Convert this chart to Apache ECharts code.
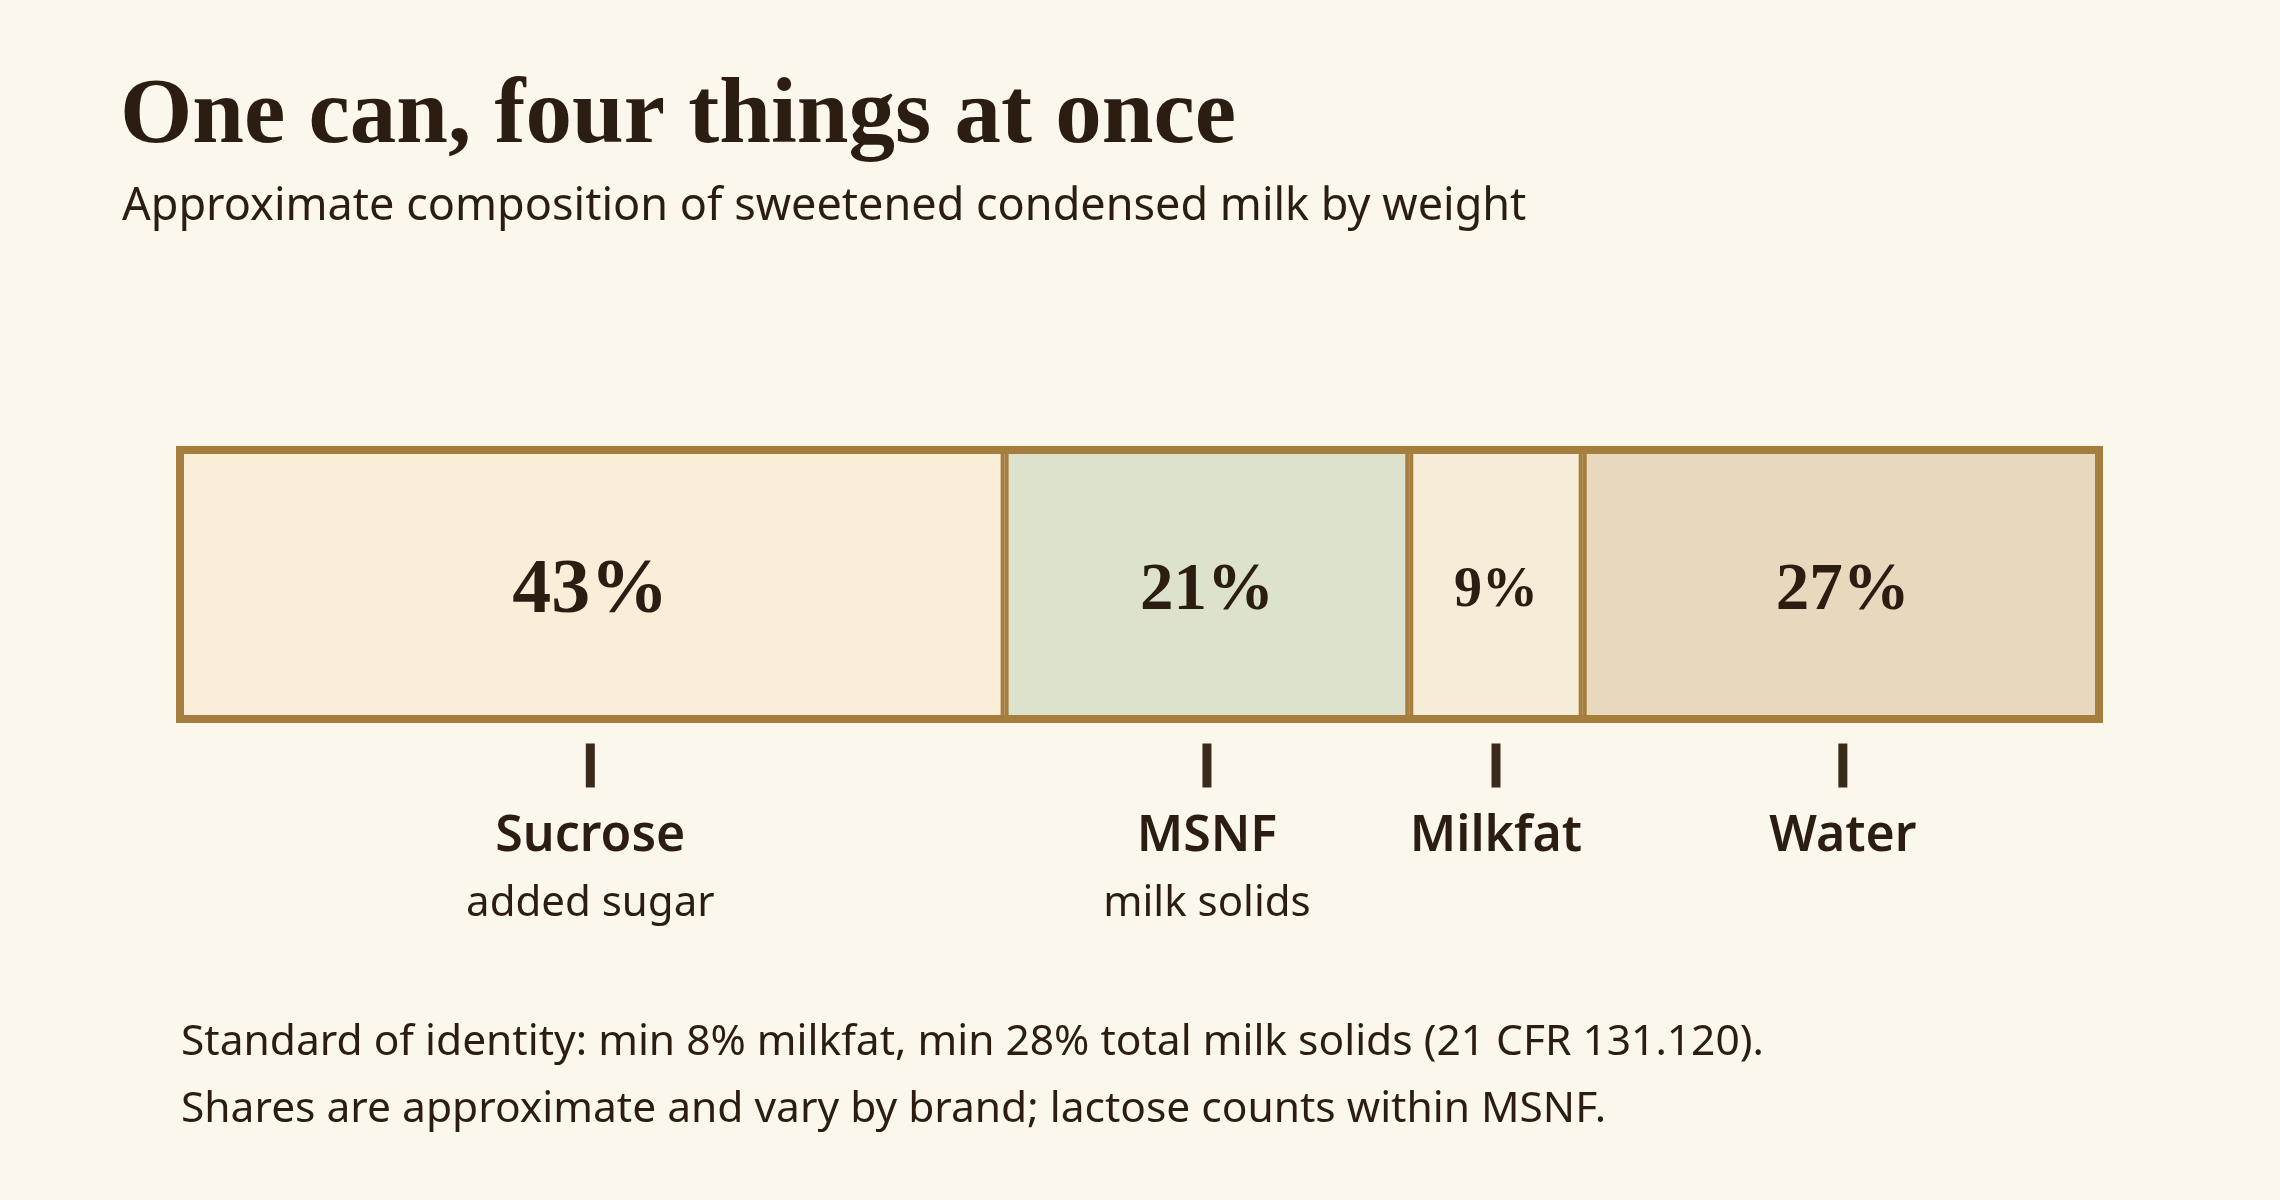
<!DOCTYPE html>
<html>
<head>
<meta charset="utf-8">
<script src="https://cdn.jsdelivr.net/npm/echarts@6/dist/echarts.min.js"></script>
<style>
  html, body { margin: 0; padding: 0; background: #fcf7ec; }
  #chart { width: 2280px; height: 1200px; }
</style>
</head>
<body>
<div id="chart"></div>
<script>
// composition of sweetened condensed milk, % by weight
const components = ["Sucrose", "MSNF", "Milkfat", "Water"];
const subLabels = ["added sugar", "milk solids", "", ""];
const shares = [43, 21, 9, 27];
const fills = ["#faeed8", "#dde2cc", "#f6ecd7", "#e8d8be"];

const ink = "#2b1d12";
const frame = "#a57d3d";
const serif = "'Liberation Serif', Georgia, serif";
const sans = "'Noto Sans', 'Open Sans', sans-serif";

// where each segment starts on the 0-100 axis
let starts = [];
let acc = 0;
shares.forEach(v => { starts.push(acc); acc += v; });

let chart = echarts.init(document.getElementById("chart"));

// bigger slices get bigger numbers
function pctSize(v) {
  if (v >= 30) return 78;
  if (v >= 15) return 67;
  return 56;
}

// echarts keeps the bar border inside the rect, so dividers end up 2x; outer edge gets topped up below
let barSeries = components.map((name, i) => ({
  name: name,
  type: "bar",
  stack: "can",
  barWidth: "100%",
  data: [shares[i]],
  itemStyle: {
    color: fills[i],
    borderColor: frame,
    borderWidth: 4
  },
  label: {
    show: true,
    position: "inside",
    offset: [0, 7],
    formatter: "{c}%",
    fontFamily: serif,
    fontWeight: "bold",
    fontSize: pctSize(shares[i]),
    color: ink
  },
  emphasis: { disabled: true },
  silent: true
}));

// thick outline round the whole can
let frameSeries = {
  type: "custom",
  silent: true,
  z: 5,
  data: [[0, 0]],
  encode: { x: 0, y: 1 },
  renderItem: (params, api) => {
    let box = params.coordSys;
    let a = api.coord([0, 0]);
    let b = api.coord([acc, 0]);
    return {
      type: "rect",
      shape: { x: a[0] + 4, y: box.y + 4, width: b[0] - a[0] - 8, height: box.height - 8 },
      style: { fill: "transparent", stroke: frame, lineWidth: 8 }
    };
  }
};

// tick + name + note under each slice
let labelSeries = {
  type: "custom",
  silent: true,
  data: components.map((n, i) => [starts[i] + shares[i] / 2, 0]),
  encode: { x: 0, y: 1 },
  renderItem: (params, api) => {
    let i = params.dataIndex;
    let pt = api.coord([api.value(0), 0]);
    let cx = pt[0];
    let cy = pt[1];
    let kids = [
      {
        type: "rect",
        shape: { x: cx - 4.5, y: cy + 159, width: 9, height: 44 },
        style: { fill: "#3a2a1a" }
      },
      {
        type: "text",
        style: {
          x: cx, y: cy + 252,
          text: components[i],
          textAlign: "center", textVerticalAlign: "middle",
          font: "600 50px " + sans,
          fill: ink
        }
      }
    ];
    if (subLabels[i]) {
      kids.push({
        type: "text",
        style: {
          x: cx, y: cy + 320,
          text: subLabels[i],
          textAlign: "center", textVerticalAlign: "middle",
          font: "400 42px " + sans,
          fill: ink
        }
      });
    }
    return { type: "group", children: kids };
  }
};

let option = {
  backgroundColor: "#fcf7ec",
  animation: false,
  title: [
    {
      text: "One can, four things at once",
      left: 115, top: 66,
      textStyle: { fontFamily: serif, fontWeight: "bold", fontSize: 93, color: ink }
    },
    {
      text: "Approximate composition of sweetened condensed milk by weight",
      left: 117, top: 180,
      textStyle: { fontFamily: sans, fontWeight: "normal", fontSize: 45, color: ink }
    },
    {
      text: "Standard of identity: min 8% milkfat, min 28% total milk solids (21 CFR 131.120).\nShares are approximate and vary by brand; lactose counts within MSNF.",
      left: 176, top: 1004,
      textStyle: { fontFamily: sans, fontWeight: "normal", fontSize: 42.5, lineHeight: 67, color: ink }
    }
  ],
  grid: { left: 176, right: 177, top: 446, height: 277 },
  xAxis: { type: "value", min: 0, max: 100, show: false },
  yAxis: { type: "category", data: ["can"], show: false },
  series: barSeries.concat([frameSeries, labelSeries])
};

chart.setOption(option);
</script>
</body>
</html>
